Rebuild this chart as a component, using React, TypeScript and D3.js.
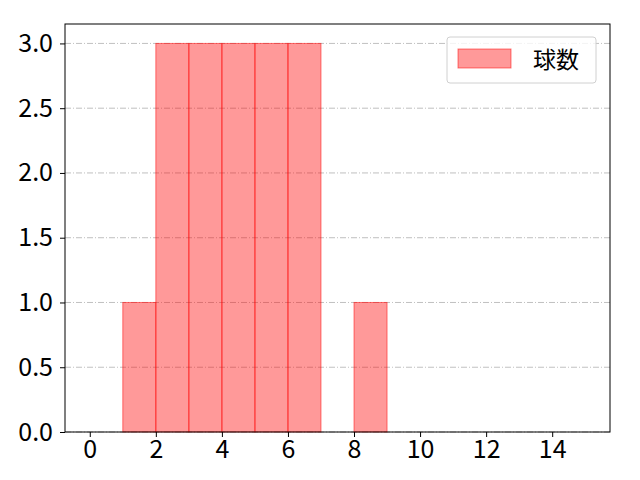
import React, { useEffect, useRef } from 'react';
import * as d3 from 'd3';

// histogram bins (left edge) and counts
const binStarts = [0, 1, 2, 3, 4, 5, 6, 7, 8, 9, 10, 11, 12, 13, 14];
const counts = [0, 1, 3, 3, 3, 3, 3, 0, 1, 0, 0, 0, 0, 0, 0];
const xTicks = [0, 2, 4, 6, 8, 10, 12, 14];
const yTicks = [0, 0.5, 1.0, 1.5, 2.0, 2.5, 3.0];
const seriesName = '球数';

const App: React.FC = () => {
  const svgRef = useRef<SVGSVGElement>(null);

  useEffect(() => {
    if (!svgRef.current) return;
    const svg = d3.select(svgRef.current);
    svg.selectAll('*').remove();

    const width = 640;
    const height = 480;
    const margin = { top: 24, right: 30, bottom: 48, left: 65 };
    const innerWidth = width - margin.left - margin.right;
    const innerHeight = height - margin.top - margin.bottom;
    const font = '"Noto Sans CJK JP", "Noto Sans", sans-serif';

    const xScale = d3.scaleLinear().domain([-0.75, 15.75]).range([0, innerWidth]);
    const yScale = d3.scaleLinear().domain([0, 3.15]).range([innerHeight, 0]);

    const g = svg.append('g').attr('transform', `translate(${margin.left},${margin.top})`);

    // Grid
    g.selectAll('.grid')
      .data(yTicks)
      .enter().append('line')
      .attr('x1', 0)
      .attr('x2', innerWidth)
      .attr('y1', d => yScale(d))
      .attr('y2', d => yScale(d))
      .attr('stroke', '#b0b0b0')
      .attr('stroke-width', 0.8)
      .attr('stroke-dasharray', '6,2,1,2');

    // Bars
    g.selectAll('.bar')
      .data(binStarts.map((s, i) => ({ s, c: counts[i] })).filter(d => d.c > 0))
      .enter().append('rect')
      .attr('x', d => xScale(d.s))
      .attr('width', d => xScale(d.s + 1) - xScale(d.s))
      .attr('y', d => yScale(d.c))
      .attr('height', d => innerHeight - yScale(d.c))
      .attr('fill', 'rgba(255,0,0,0.4)')
      .attr('stroke', 'rgba(255,0,0,0.5)')
      .attr('stroke-width', 1);

    // Frame
    g.append('rect')
      .attr('width', innerWidth)
      .attr('height', innerHeight)
      .attr('fill', 'none')
      .attr('stroke', '#000')
      .attr('stroke-width', 1);

    // X axis
    const xAxis = g.append('g')
      .attr('transform', `translate(0,${innerHeight})`)
      .call(d3.axisBottom(xScale).tickValues(xTicks).tickSize(5).tickPadding(3).tickFormat(d => String(d)));
    xAxis.select('.domain').remove();
    xAxis.attr('font-size', 25).attr('font-family', font);
    xAxis.selectAll('text').attr('fill', '#000');

    // Y axis
    const yAxis = g.append('g')
      .call(d3.axisLeft(yScale).tickValues(yTicks).tickSize(5).tickPadding(7).tickFormat(d => (d as number).toFixed(1)));
    yAxis.select('.domain').remove();
    yAxis.attr('font-size', 25).attr('font-family', font);
    yAxis.selectAll('text').attr('fill', '#000');

    // Legend
    const lg = svg.append('g').attr('transform', `translate(447,37)`);
    lg.append('rect')
      .attr('width', 149)
      .attr('height', 46)
      .attr('rx', 3)
      .attr('fill', 'rgba(255,255,255,0.8)')
      .attr('stroke', '#d0d0d0');
    lg.append('rect')
      .attr('x', 11)
      .attr('y', 12)
      .attr('width', 53)
      .attr('height', 19)
      .attr('fill', 'rgba(255,0,0,0.4)')
      .attr('stroke', 'rgba(255,0,0,0.5)');
    lg.append('text')
      .attr('x', 86)
      .attr('y', 31)
      .attr('font-size', 23)
      .attr('font-family', font)
      .attr('fill', '#000')
      .text(seriesName);
  }, []);

  return <svg ref={svgRef} width={640} height={480} style={{ position: 'absolute', left: 0, top: 0 }}></svg>;
};

export default App;
